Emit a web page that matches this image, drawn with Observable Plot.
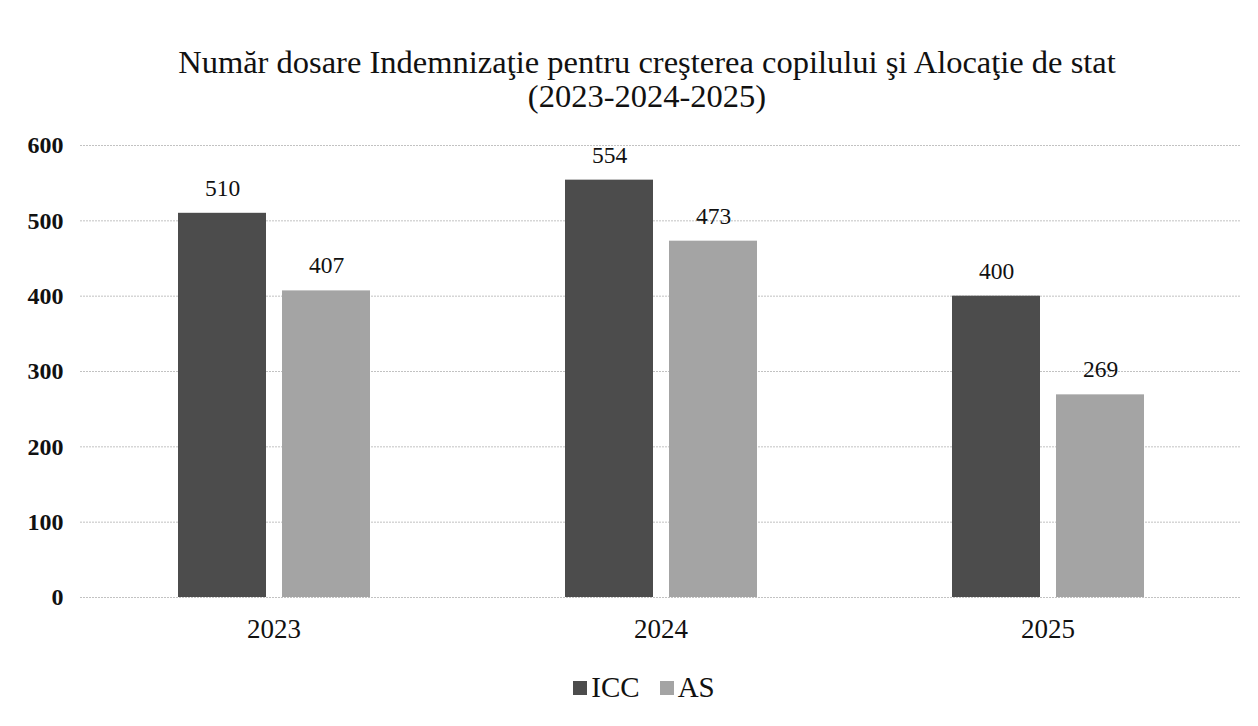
<!DOCTYPE html>
<html>
<head>
<meta charset="utf-8">
<script src="https://cdn.jsdelivr.net/npm/d3@7"></script>
<script src="https://cdn.jsdelivr.net/npm/@observablehq/plot@0.6"></script>
<style>
  body { margin: 0; background: #fff; font-family: "Liberation Serif", "Times New Roman", serif; }
  #title { text-align: center; font-size: 32.5px; line-height: 34px; padding-top: 45px; padding-left: 36px; color: #111; height: 75px; box-sizing: content-box; }
  #legend { display: flex; justify-content: center; align-items: center; gap: 20px; font-size: 29px; line-height: 33px; color: #111; padding-left: 30px; margin-top: 21px; }
  #legend span.sw { display: inline-block; width: 14px; height: 14px; margin-right: 4px; vertical-align: middle; position: relative; top: -2px; }
</style>
</head>
<body>
<div id="title">Număr dosare Indemnizaţie pentru creşterea copilului şi Alocaţie de stat<br>(2023-2024-2025)</div>
<div id="chart"></div>
<div id="legend"></div>
<script>
const years = ["2023", "2024", "2025"];
const series = ["ICC", "AS"];
const iccValues = [510, 554, 400];
const asValues = [407, 473, 269];
const seriesColors = ["#4c4c4c", "#a4a4a4"];
const yTicks = [0, 100, 200, 300, 400, 500, 600];

const data = [];
years.forEach((y, i) => {
  data.push({year: y, series: "ICC", value: iccValues[i]});
  data.push({year: y, series: "AS", value: asValues[i]});
});

const chart = Plot.plot({
  width: 1258,
  height: 530,
  marginTop: 25,
  marginBottom: 53,
  marginLeft: 80,
  marginRight: 17,
  style: {fontFamily: "'Liberation Serif', 'Times New Roman', serif", color: "#111", background: "#fff"},
  fx: {domain: years, padding: 0, label: null, axis: null},
  x: {domain: series, paddingInner: 0.154, paddingOuter: 0.937, axis: null},
  y: {domain: [0, 600], ticks: yTicks, label: null, axis: null},
  color: {domain: series, range: seriesColors},
  marks: [
    Plot.gridY(yTicks, {stroke: "#a8a8a8", strokeOpacity: 0.7, strokeDasharray: "2,1", strokeWidth: 1}),
    Plot.axisY({ticks: yTicks, tickSize: 0, tickPadding: 17, label: null, fontSize: 24, fontWeight: "bold", anchor: "left"}),
    Plot.axisFx({domain: years, tickSize: 0, tickPadding: 21, label: null, fontSize: 27, anchor: "bottom"}),
    Plot.barY(data, {fx: "year", x: "series", y: "value", fill: "series"}),
    Plot.text(data, {fx: "year", x: "series", y: "value", text: d => String(d.value), dy: -25, fontSize: 23.5})
  ]
});
document.getElementById("chart").appendChild(chart);

const legend = document.getElementById("legend");
series.forEach((s, i) => {
  const item = document.createElement("div");
  item.innerHTML = `<span class="sw" style="background:${seriesColors[i]}"></span>${s}`;
  legend.appendChild(item);
});
</script>
</body>
</html>
